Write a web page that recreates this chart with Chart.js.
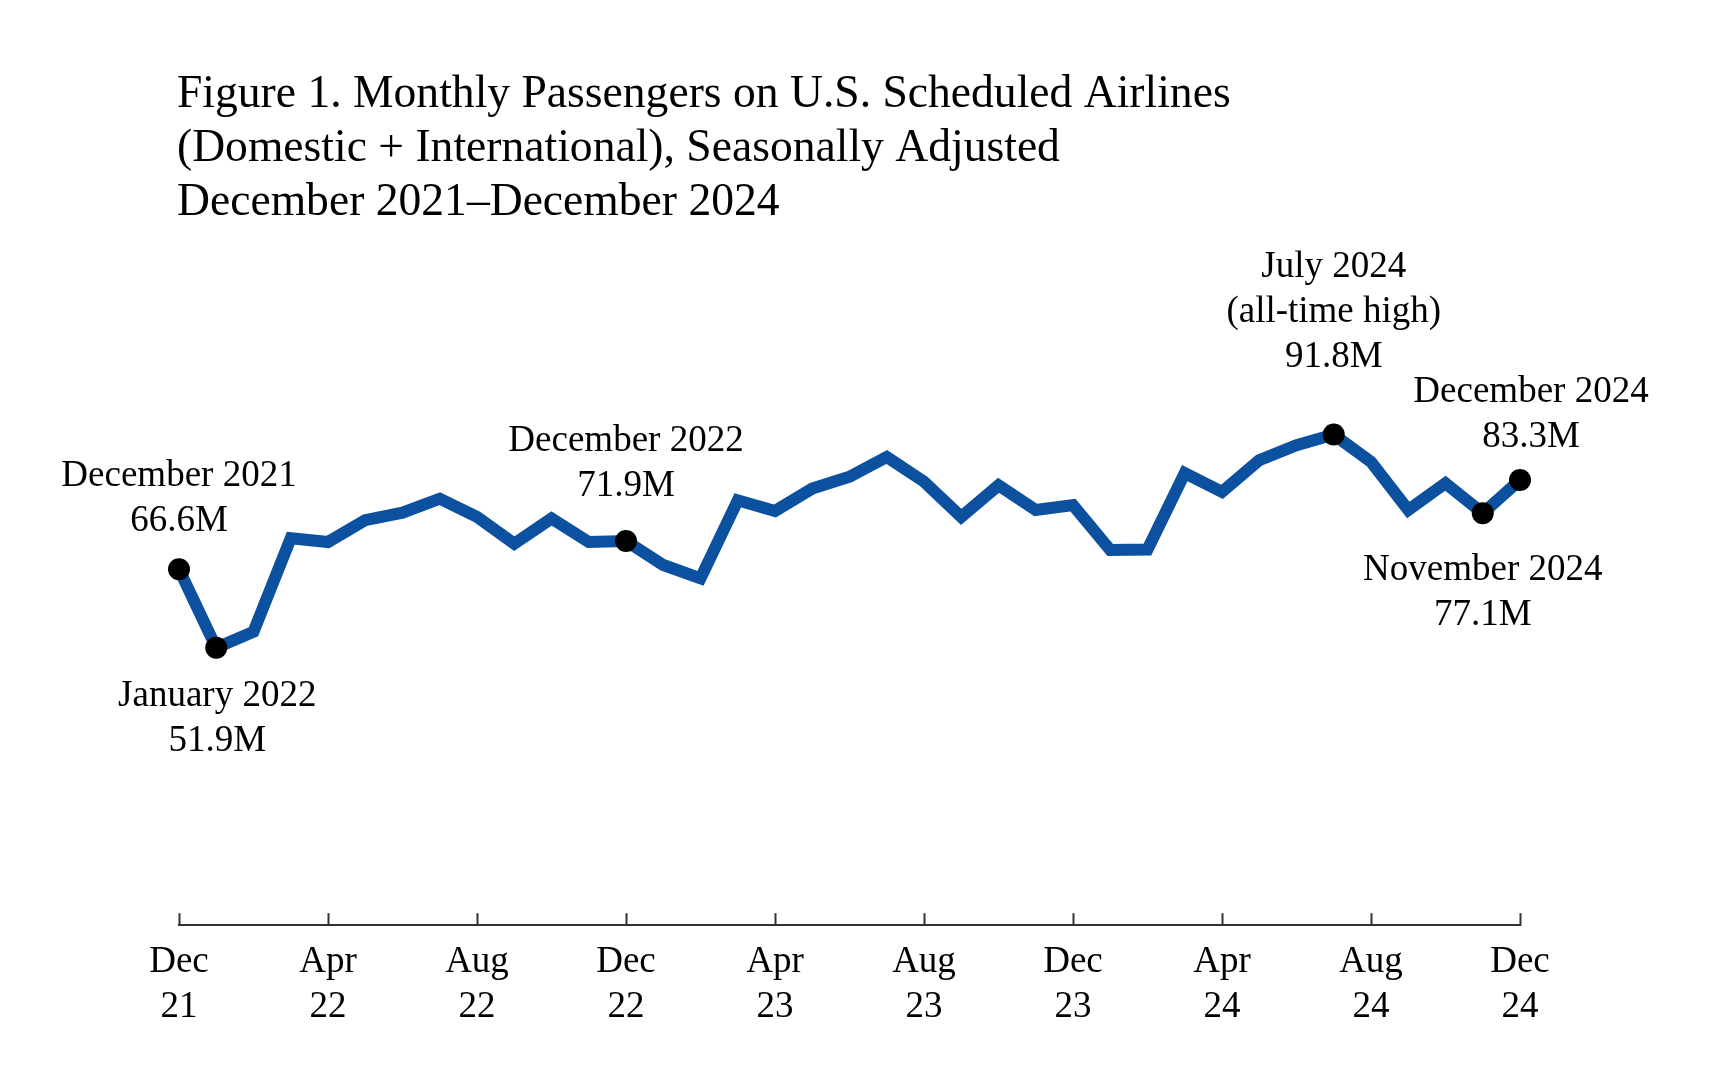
<!DOCTYPE html>
<html>
<head>
<meta charset="utf-8">
<title>Monthly Passengers on U.S. Scheduled Airlines</title>
<script src="https://cdn.jsdelivr.net/npm/chart.js@4.4.1/dist/chart.umd.min.js"></script>
<style>
    html, body { margin: 0; padding: 0; background: #fff; }
    #wrap { width: 1710px; height: 1080px; position: relative; }
</style>
</head>
<body>
<div id="wrap"><canvas id="passChart"></canvas></div>
<script>
// ======================================================
// DATA (millions of passengers, seasonally adjusted)
// ======================================================
const months = [
    "Dec 21",
    "Jan 22", "Feb 22", "Mar 22", "Apr 22", "May 22", "Jun 22",
    "Jul 22", "Aug 22", "Sep 22", "Oct 22", "Nov 22", "Dec 22",
    "Jan 23", "Feb 23", "Mar 23", "Apr 23", "May 23", "Jun 23",
    "Jul 23", "Aug 23", "Sep 23", "Oct 23", "Nov 23", "Dec 23",
    "Jan 24", "Feb 24", "Mar 24", "Apr 24", "May 24", "Jun 24",
    "Jul 24", "Aug 24", "Sep 24", "Oct 24", "Nov 24", "Dec 24"
];

const passengers = [
    66.6,
    51.9, 54.9, 72.4, 71.7, 75.8, 77.2,
    79.8, 76.4, 71.4, 76.1, 71.7, 71.9,
    67.4, 64.9, 79.5, 77.5, 81.7, 83.9,
    87.6, 83.0, 76.4, 82.3, 77.7, 78.6,
    70.2, 70.3, 84.6, 81.1, 87.0, 89.8,
    91.8, 86.7, 77.7, 82.7, 77.1, 83.3
];

const tickMonths = ["Dec 21", "Apr 22", "Aug 22", "Dec 22", "Apr 23", "Aug 23",
                    "Dec 23", "Apr 24", "Aug 24", "Dec 24"];

const calloutMonths = ["Dec 21", "Jan 22", "Dec 22", "Jul 24", "Dec 24", "Nov 24"];
const calloutText = [
    ["December 2021", "66.6M"],
    ["January 2022", "51.9M"],
    ["December 2022", "71.9M"],
    ["July 2024", "(all-time high)", "91.8M"],
    ["December 2024", "83.3M"],
    ["November 2024", "77.1M"]
];

const titleLines = [
    "Figure 1. Monthly Passengers on U.S. Scheduled Airlines",
    "(Domestic + International), Seasonally Adjusted",
    "December 2021\u2013December 2024"
];

// ======================================================
// STYLE
// ======================================================
const SERIF = "'Liberation Serif', 'Times New Roman', serif";
const LINE_BLUE = "#0b519f";
const AXIS_GREY = "#333333";

// where each callout sits relative to its point (baseline nearest the point)
const calloutPlace = [
    { dx: 0,  dy: -38, below: false },
    { dx: 1,  dy: 58,  below: true  },
    { dx: 0,  dy: -45, below: false },
    { dx: 0,  dy: -68, below: false },
    { dx: 11, dy: -33, below: false },
    { dx: 0,  dy: 67,  below: true  }
];

// ======================================================
// CALLOUT LABELS PLUGIN
// ======================================================
const calloutPlugin = {
    id: "callouts",
    afterDraw(chart) {
        const { ctx, scales } = chart;
        const lineGap = 45;

        ctx.save();
        ctx.font = `37px ${SERIF}`;
        ctx.fillStyle = "#000";
        ctx.textAlign = "center";
        ctx.textBaseline = "alphabetic";

        calloutMonths.forEach((m, i) => {
            const idx = months.indexOf(m);
            const px = scales.x.getPixelForValue(idx);
            const py = scales.y.getPixelForValue(passengers[idx]);
            const place = calloutPlace[i];
            const lines = calloutText[i];

            lines.forEach((txt, j) => {
                let y;
                if (place.below) {
                    y = py + place.dy + j * lineGap;
                } else {
                    y = py + place.dy - (lines.length - 1 - j) * lineGap;
                }
                ctx.fillText(txt, px + place.dx, y);
            });
        });

        ctx.restore();
    }
};

// ======================================================
// CHART
// ======================================================
const calloutIdx = calloutMonths.map(m => months.indexOf(m));

new Chart(document.getElementById("passChart"), {
    type: "line",
    data: {
        labels: months,
        datasets: [{
            data: passengers,
            borderColor: LINE_BLUE,
            borderWidth: 12,
            borderJoinStyle: "miter",
            tension: 0,
            fill: false,
            clip: false,
            pointRadius: ctx => calloutIdx.includes(ctx.dataIndex) ? 11 : 0,
            pointHoverRadius: ctx => calloutIdx.includes(ctx.dataIndex) ? 11 : 0,
            pointBackgroundColor: "#000",
            pointBorderColor: "#000",
            pointBorderWidth: 0
        }]
    },
    options: {
        responsive: true,
        maintainAspectRatio: false,
        animation: false,
        events: [],
        layout: {
            padding: { left: 177, right: 190, top: 0, bottom: 24 }
        },
        plugins: {
            legend: { display: false },
            tooltip: { enabled: false },
            title: {
                display: true,
                text: titleLines,
                align: "start",
                color: "#000",
                font: { family: SERIF, size: 45.6, weight: "normal", lineHeight: 1.18 },
                padding: { top: 68, bottom: 1 }
            }
        },
        scales: {
            x: {
                type: "category",
                offset: false,
                afterBuildTicks: axis => {
                    axis.ticks = axis.ticks.filter(t => tickMonths.includes(months[t.value]));
                },
                grid: {
                    display: true,
                    drawOnChartArea: false,
                    drawTicks: true,
                    tickLength: -12,
                    tickWidth: 2,
                    tickColor: AXIS_GREY
                },
                border: { display: true, color: AXIS_GREY, width: 2 },
                ticks: {
                    autoSkip: false,
                    maxRotation: 0,
                    padding: 27,
                    color: "#000",
                    font: { family: SERIF, size: 37, lineHeight: 1.2 },
                    callback: function (value) {
                        return months[value].split(" ");
                    }
                }
            },
            y: {
                display: true,
                min: 0,
                max: 130,
                afterFit: s => { s.width = 2; },
                grid: { display: false },
                border: { display: false },
                ticks: { display: false }
            }
        }
    },
    plugins: [calloutPlugin]
});
</script>
</body>
</html>
